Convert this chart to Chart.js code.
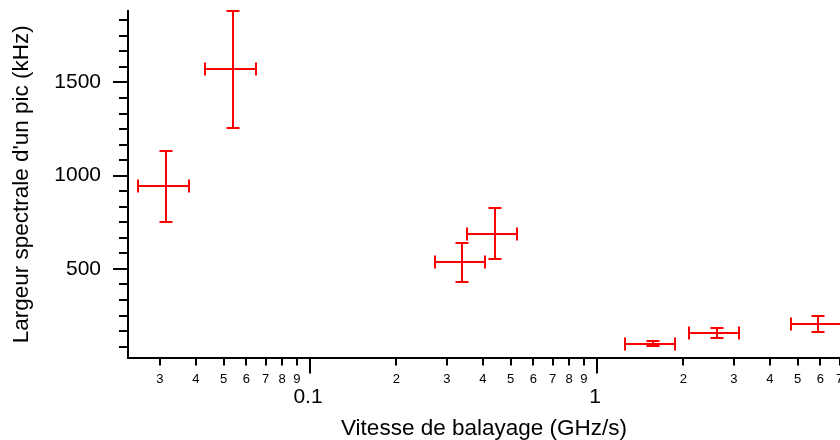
<!DOCTYPE html>
<html>
<head>
<meta charset="utf-8">
<script src="https://cdn.jsdelivr.net/npm/chart.js@4.4.1/dist/chart.umd.min.js"></script>
<style>
  html, body { margin: 0; padding: 0; background: #fff; overflow: hidden; }
  canvas { display: block; }
</style>
</head>
<body>
<canvas id="sweepChart" width="840" height="440"></canvas>
<script>
// sweep speed (GHz/s): centre, low and high end of the horizontal bar
const speedGHz  = [0.0314, 0.0538, 0.339, 0.440, 1.564, 2.626, 5.90];
const speedLow  = [0.0251, 0.0431, 0.272, 0.352, 1.252, 2.097, 4.73];
const speedHigh = [0.0379, 0.0647, 0.408, 0.528, 1.870, 3.117, 7.36];
// spectral width of one peak (kHz) and its +/- error
const widthKHz = [942, 1570, 536, 689, 100, 155, 205];
const widthErr = [188, 313, 105, 137, 16, 26, 41];

// axis ticks
const xTicks = [0.03, 0.04, 0.05, 0.06, 0.07, 0.08, 0.09, 0.1, 0.2, 0.3, 0.4, 0.5, 0.6, 0.7, 0.8, 0.9, 1, 2, 3, 4, 5, 6, 7];
const xTickLabels = ['3', '4', '5', '6', '7', '8', '9', '0.1', '2', '3', '4', '5', '6', '7', '8', '9', '1', '2', '3', '4', '5', '6', '7'];
const xMajorTicks = [0.1, 1];
const yMajorTicks = [500, 1000, 1500];
const yMinorTicks = [83.3, 166.7, 250, 333.3, 416.7, 583.3, 666.7, 750, 833.3, 916.7,
  1083.3, 1166.7, 1250, 1333.3, 1416.7, 1583.3, 1666.7, 1750, 1833.3];

const FONT = '"Liberation Sans", Arial, sans-serif';
Chart.defaults.font.family = FONT;
Chart.defaults.color = '#000';

const isMajorX = v => xMajorTicks.some(m => Math.abs(m - v) < 1e-9);

const errorBars = {
  id: 'errorBars',
  afterDatasetsDraw(chart) {
    const { ctx, scales: { x, y } } = chart;
    const cap = 6.5;
    ctx.save();
    ctx.strokeStyle = '#ff0000';
    ctx.lineWidth = 2;
    speedGHz.forEach((v, i) => {
      const px = Math.round(x.getPixelForValue(v));
      const py = Math.round(y.getPixelForValue(widthKHz[i]));
      const x1 = Math.round(x.getPixelForValue(speedLow[i]));
      const x2 = Math.round(x.getPixelForValue(speedHigh[i]));
      const y1 = Math.round(y.getPixelForValue(widthKHz[i] + widthErr[i]));
      const y2 = Math.round(y.getPixelForValue(widthKHz[i] - widthErr[i]));
      ctx.beginPath();
      ctx.moveTo(x1, py); ctx.lineTo(x2, py);
      ctx.moveTo(x1, py - cap); ctx.lineTo(x1, py + cap);
      ctx.moveTo(x2, py - cap); ctx.lineTo(x2, py + cap);
      ctx.moveTo(px, y1); ctx.lineTo(px, y2);
      ctx.moveTo(px - cap, y1); ctx.lineTo(px + cap, y1);
      ctx.moveTo(px - cap, y2); ctx.lineTo(px + cap, y2);
      ctx.stroke();
    });
    ctx.restore();
  }
};

// Igor-style outside ticks, long for majors and short for minors,
// plus the two-size labels under the log axis
const tickMarks = {
  id: 'tickMarks',
  afterDraw(chart) {
    const { ctx, chartArea: a, scales: { x, y } } = chart;
    ctx.save();
    ctx.strokeStyle = '#000';
    ctx.lineWidth = 2;
    ctx.beginPath();
    xTicks.forEach(v => {
      const px = Math.round(x.getPixelForValue(v));
      ctx.moveTo(px, a.bottom);
      ctx.lineTo(px, a.bottom + (isMajorX(v) ? 16 : 8));
    });
    yMajorTicks.forEach(v => {
      const py = Math.round(y.getPixelForValue(v));
      ctx.moveTo(a.left, py); ctx.lineTo(a.left - 15, py);
    });
    yMinorTicks.forEach(v => {
      const py = Math.round(y.getPixelForValue(v));
      ctx.moveTo(a.left, py); ctx.lineTo(a.left - 9, py);
    });
    ctx.stroke();

    ctx.fillStyle = '#000';
    ctx.textAlign = 'center';
    ctx.textBaseline = 'middle';
    xTicks.forEach((v, i) => {
      const major = isMajorX(v);
      ctx.font = (major ? 21 : 13) + 'px ' + FONT;
      ctx.fillText(xTickLabels[i], x.getPixelForValue(v) - (major ? 2 : 0), a.bottom + (major ? 40 : 21.5));
    });
    ctx.restore();
  }
};

new Chart(document.getElementById('sweepChart'), {
  type: 'scatter',
  data: {
    datasets: [{
      data: speedGHz.map((v, i) => ({ x: v, y: widthKHz[i] })),
      pointRadius: 0,
      showLine: false,
      borderColor: '#ff0000'
    }]
  },
  options: {
    responsive: false,
    animation: false,
    layout: { padding: { top: 11, left: 0, right: 0, bottom: 0 } },
    plugins: { legend: { display: false }, tooltip: { enabled: false } },
    scales: {
      x: {
        type: 'logarithmic',
        min: 0.02322,
        max: 7.025,
        afterFit(s) { s.height = 82.5; s.paddingLeft = 0; s.paddingRight = 0; },
        afterBuildTicks(s) { s.ticks = xTicks.map(v => ({ value: v })); },
        grid: { display: false, drawTicks: false },
        border: { display: true, color: '#000', width: 2 },
        ticks: { display: false },
        title: {
          display: true,
          text: 'Vitesse de balayage (GHz/s)',
          color: '#000',
          font: { size: 22.5, lineHeight: 1 },
          padding: { top: 0, bottom: 0 }
        }
      },
      y: {
        type: 'linear',
        min: 25,
        max: 1883,
        afterFit(s) { s.width = 128; s.paddingTop = 0; s.paddingBottom = 0; },
        afterBuildTicks(s) { s.ticks = yMajorTicks.map(v => ({ value: v })); },
        grid: { display: false, drawTicks: false },
        border: { display: true, color: '#000', width: 2 },
        ticks: { color: '#000', padding: 27, font: { size: 21 }, callback: v => String(v) },
        title: {
          display: true,
          text: "Largeur spectrale d'un pic (kHz)",
          color: '#000',
          font: { size: 22.5, lineHeight: 1 },
          padding: { top: 10.5, bottom: 0 }
        }
      }
    }
  },
  plugins: [errorBars, tickMarks]
});
</script>
</body>
</html>
